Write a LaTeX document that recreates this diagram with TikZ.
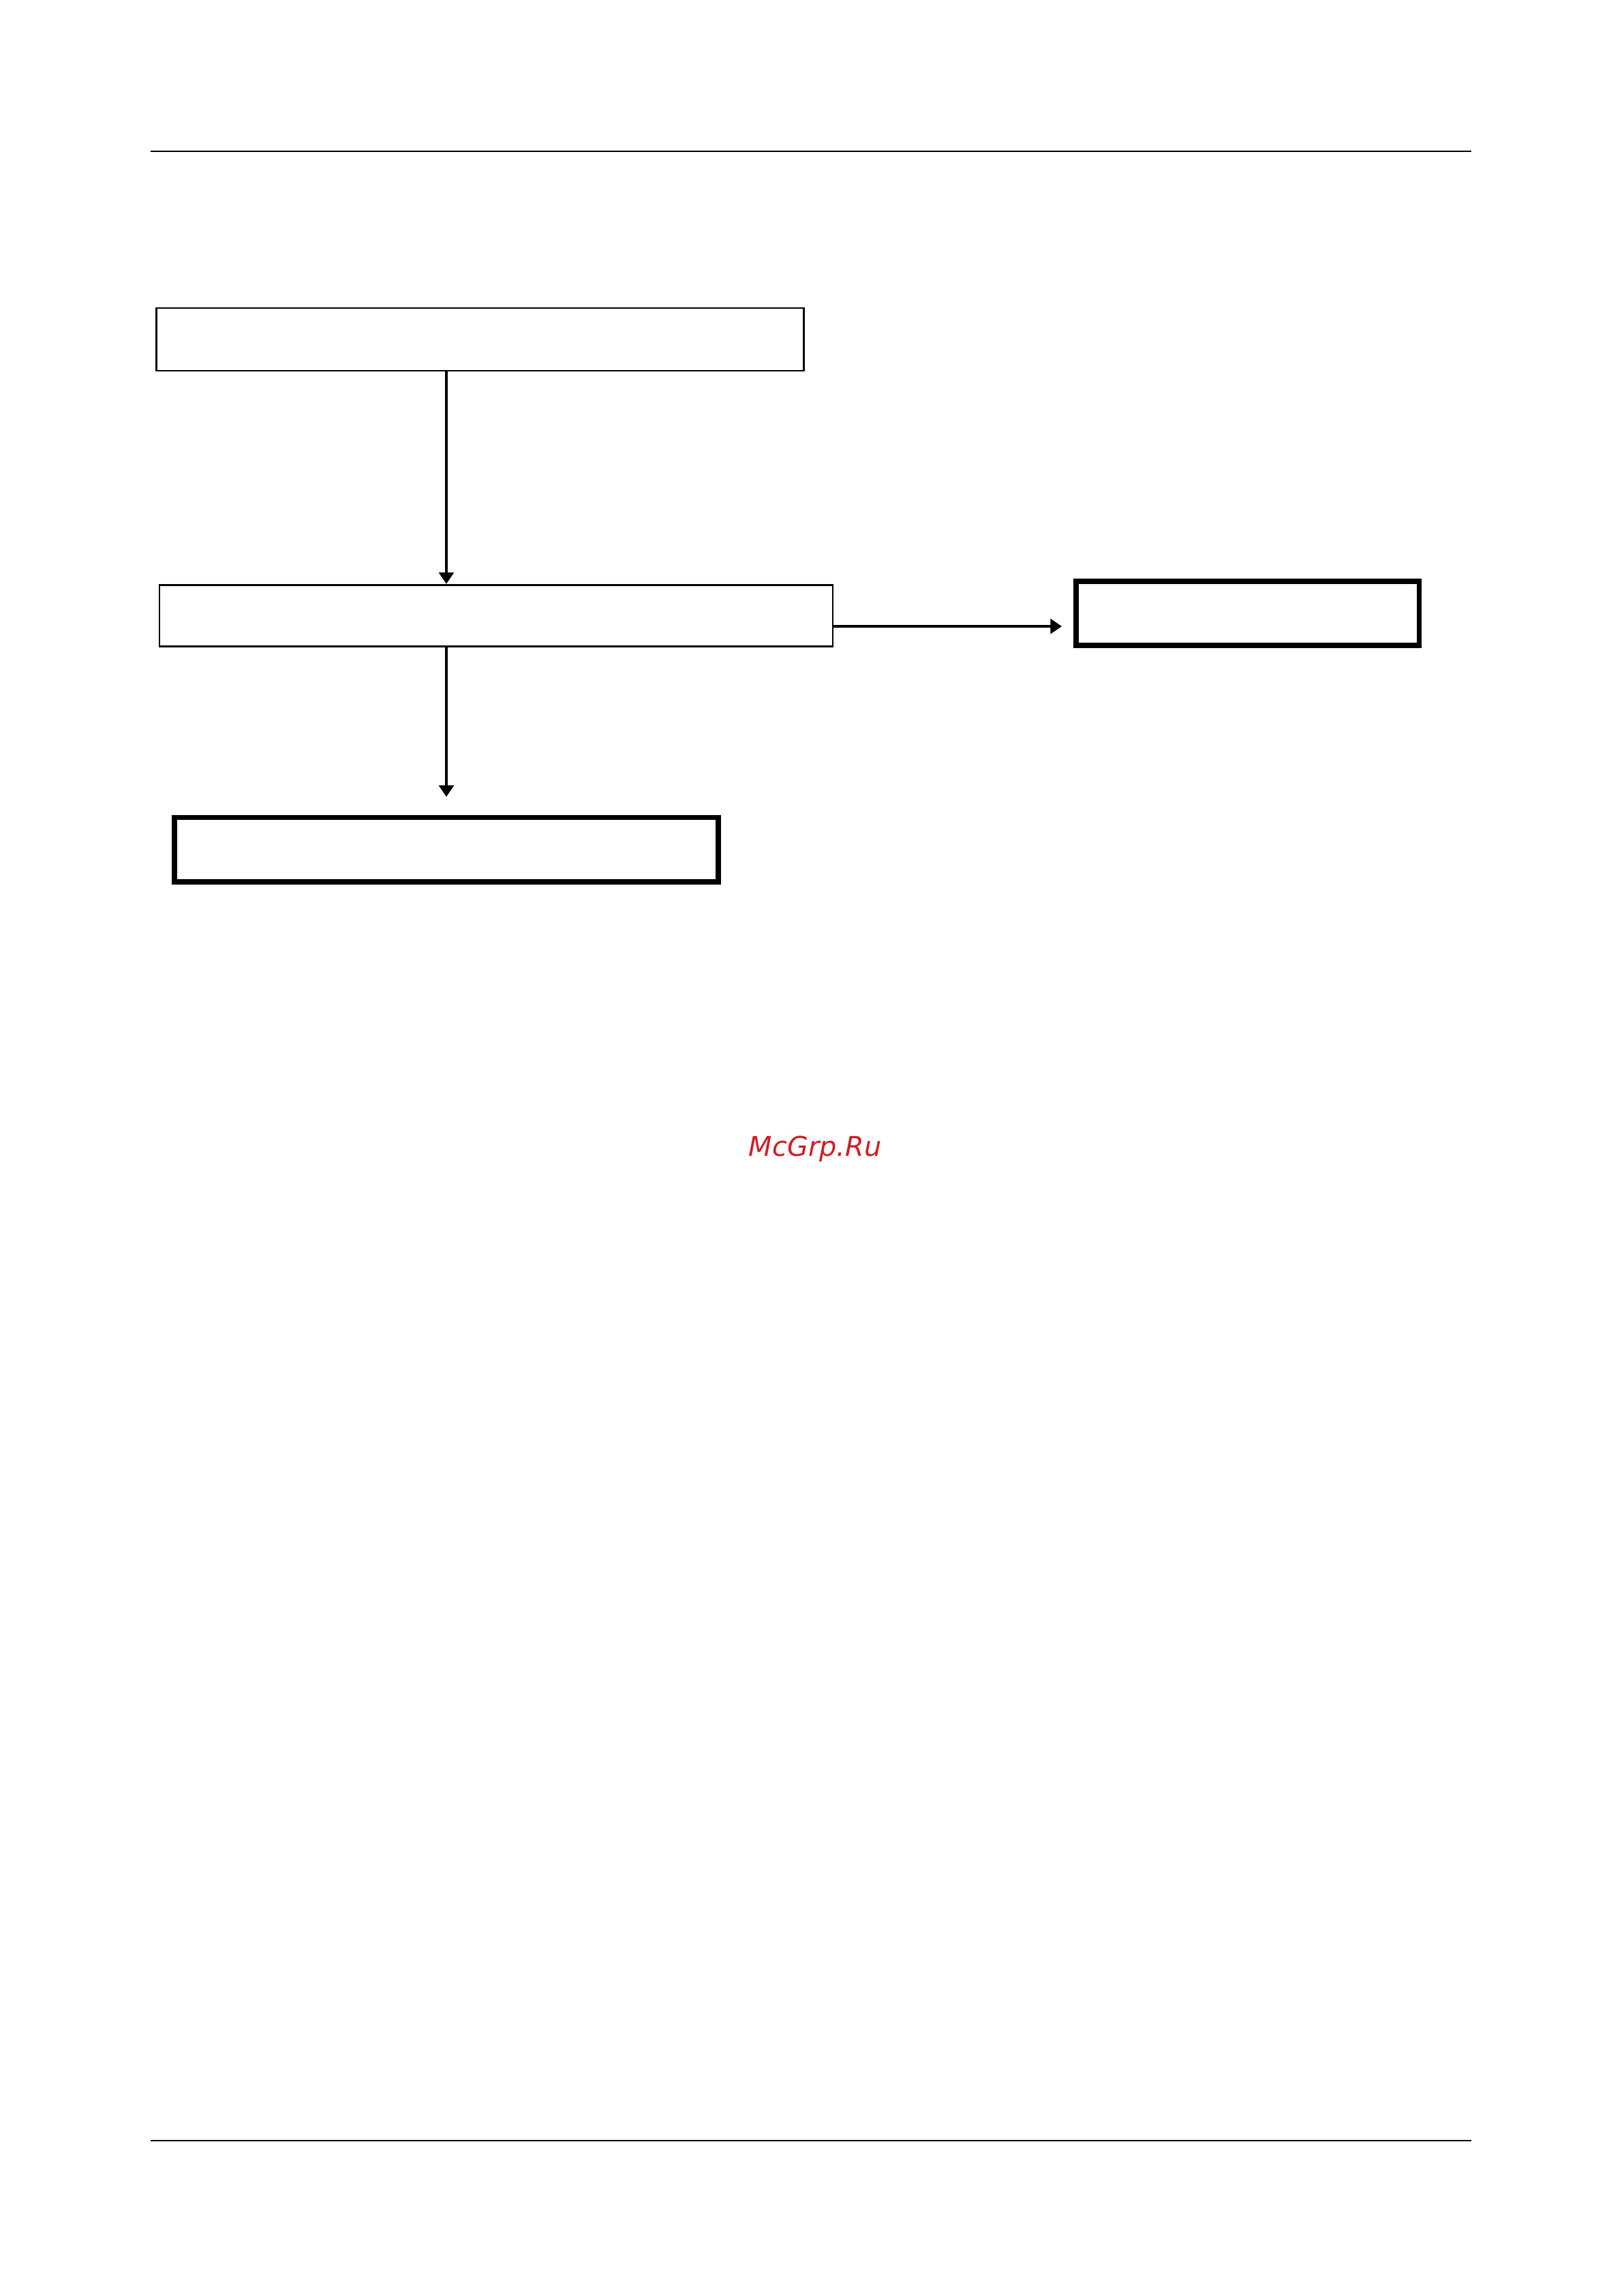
\documentclass[tikz,border=0pt]{standalone}
\usepackage{fontspec}
\usepackage{xcolor}
\usepackage{tikz}
\usetikzlibrary{arrows.meta,calc,positioning}
\newfontfamily\markfont{DejaVu Sans}
\definecolor{markred}{RGB}{208,30,36}

\begin{document}
\begin{tikzpicture}[
    thinbox/.style={draw, line width=0.7pt, inner sep=0pt},
    thickbox/.style={draw, line width=1.9pt, inner sep=0pt},
    flow/.style={line width=0.85pt, -{Triangle[width=5.5pt,length=4.2pt]}}
  ]
        \useasboundingbox (0,0) rectangle (21,-29.7);

        % rules
        \coordinate (hl) at (1.948,-1.957);
        \coordinate (hr) at (19.03,-1.957);
        \draw[line width=0.6pt] (hl) -- (hr);
        \coordinate (fl) at (1.948,-27.69);
        \coordinate (fr) at (19.03,-27.69);
        \draw[line width=0.6pt] (fl) -- (fr);

        % boxes
        \node[thinbox, minimum width=8.38cm, minimum height=0.81cm] (first) at (6.21,-4.39) {};
        \node[thinbox, minimum width=8.71cm, minimum height=0.80cm] (second) at (6.418,-7.965) {};
        \node[thickbox, minimum width=4.44cm, minimum height=0.83cm] (side) at (16.14,-7.934) {};
        \node[thickbox, minimum width=7.035cm, minimum height=0.83cm] (last) at (5.774,-10.99) {};

        % arrows
        \draw[flow] (first.south -| last.north) -- (second.north -| last.north);
        \coordinate (righttip) at (13.735,-8.102);
        \draw[flow] (second.east |- righttip) -- (righttip);
        \coordinate (downtip) at (5.774,-10.306);
        \draw[flow] (second.south -| last.north) -- (downtip);

        % mark
        \node[text=markred, font=\markfont\itshape\fontsize{10}{12}\selectfont] (mark) at (10.545,-14.86) {McGrp.Ru};

\end{tikzpicture}
\end{document}
